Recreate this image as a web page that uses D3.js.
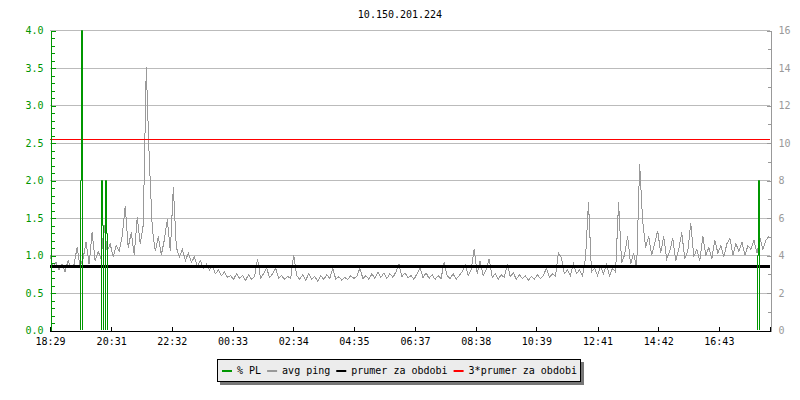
<!DOCTYPE html>
<meta charset="utf-8">
<style>
body { margin: 0; background: #fff; }
svg { font-family: "DejaVu Sans Mono", monospace; font-size: 10px; }
.grid line { stroke: #bbb; shape-rendering: crispEdges; }
.axis path, .axis line { shape-rendering: crispEdges; }
</style>
<svg width="800" height="400"></svg>
<script src="https://cdn.jsdelivr.net/npm/d3@7"></script>
<script>

var title = "10.150.201.224";
var startTime = "18:29";
var xTickLabels = ["18:29", "20:31", "22:32", "00:33", "02:34", "04:35",
                   "06:37", "08:38", "10:39", "12:41", "14:42", "16:43"];
var spanMinutes = 1436;
var stepMinutes = 6;

// avg ping [ms], one sample every 6 minutes from 18:29
var pingMs = [
  4.0, 3.3, 3.6, 3.2, 3.5, 3.1, 3.7, 3.3, 3.5, 4.4, 3.4, 3.8, 4.7, 3.5, 5.2, 3.7,
  4.2, 3.8, 5.6, 4.2, 4.6, 3.9, 4.5, 4.2, 5.0, 6.6, 4.4, 5.2, 4.0, 6.0, 4.6, 5.6,
  14.0, 9.1, 5.4, 4.2, 5.0, 4.0, 4.8, 5.9, 4.2, 7.6, 4.4, 3.9, 4.3, 3.7, 4.1, 3.6,
  3.9, 3.4, 3.7, 3.3, 3.5, 3.2, 3.4, 3.0, 3.2, 2.9, 3.1, 2.8, 2.9, 2.7, 3.0, 2.75,
  2.9, 2.65, 2.95, 2.7, 2.85, 3.8, 2.75, 3.0, 3.3, 2.8, 3.0, 3.3, 2.75, 2.9, 2.7, 2.85,
  2.75, 4.0, 2.9, 2.7, 2.95, 2.65, 3.0, 2.7, 2.85, 2.6, 2.9, 2.7, 2.95, 2.75, 3.3, 2.7,
  2.85, 2.65, 2.8, 2.7, 2.9, 2.75, 2.85, 3.3, 2.75, 2.9, 2.7, 3.0, 2.75, 3.1, 2.8, 3.05,
  2.75, 3.0, 2.8, 3.1, 3.5, 2.85, 3.05, 2.8, 2.9, 2.7, 3.0, 3.3, 2.8, 3.05, 2.75, 2.95,
  2.7, 2.9, 2.75, 3.6, 2.9, 2.75, 3.0, 2.7, 2.9, 3.1, 3.5, 2.9, 3.2, 4.3, 3.0, 3.7,
  2.9, 3.2, 3.8, 2.8, 3.0, 2.7, 2.95, 2.8, 3.5, 2.85, 3.05, 2.7, 2.95, 2.75, 2.9, 2.65,
  2.85, 2.7, 2.95, 2.75, 2.9, 3.3, 2.8, 3.0, 2.85, 4.1, 3.85, 3.0, 3.2, 2.9, 3.55, 3.0,
  3.2, 2.9, 3.8, 6.8, 3.1, 3.3, 2.9, 3.4, 3.0, 3.5, 2.9, 3.3, 3.1, 6.8, 3.6, 4.0,
  5.0, 3.5, 4.1, 3.3, 8.85, 5.8, 4.4, 5.0, 4.0, 4.6, 5.3, 4.1, 5.0, 3.8, 4.2, 4.9,
  3.7, 4.3, 5.2, 3.8, 4.2, 5.7, 3.9, 4.3, 3.7, 5.0, 4.0, 4.4, 3.8, 4.8, 4.1, 4.5,
  3.9, 4.6, 4.9, 4.0, 4.6, 4.2, 4.7, 4.0, 4.5, 4.3, 4.8, 4.1, 4.9, 4.3, 4.8, 5.0
];

// packet loss [%], minutes after 18:29
var plMinutes = [62, 64, 104, 106, 112, 114, 1412, 1414];
var plPercent = [2.0, 4.0, 2.0, 1.4, 2.0, 1.3, 1.0, 2.0];

var avgPingMs = 3.39;

var leftTicks = [0, 0.5, 1, 1.5, 2, 2.5, 3, 3.5, 4];
var rightTicks = [0, 2, 4, 6, 8, 10, 12, 14, 16];

var legendLabels = ["% PL", "avg ping", "prumer za obdobi", "3*prumer za obdobi"];
var legendColors = ["#009600", "#999999", "#000000", "#ff0000"];

var svg = d3.select("svg"),
    pLeft = 50, pRight = 770, pTop = 30, pBottom = 330;

function toMinRaw(s) { var p = s.split(":"); return (+p[0]) * 60 + (+p[1]); }
function toMin(s) { return (toMinRaw(s) - toMinRaw(startTime) + 1440) % 1440; }

var x = d3.scaleLinear().domain([0, spanMinutes]).range([pLeft, pRight]);
var yL = d3.scaleLinear().domain([0, 4]).range([pBottom, pTop]);
var yR = d3.scaleLinear().domain([0, 16]).range([pBottom, pTop]);

svg.append("defs").append("clipPath").attr("id", "plot")
  .append("rect").attr("x", pLeft).attr("y", pTop - 1)
  .attr("width", pRight - pLeft + 1).attr("height", pBottom - pTop + 1);

// title
svg.append("text").attr("x", 400).attr("y", 18)
  .attr("text-anchor", "middle").attr("fill", "#000").text(title);

// grid
svg.append("g").attr("class", "grid")
  .selectAll("line").data(leftTicks.slice(1)).enter().append("line")
  .attr("x1", pLeft).attr("x2", pRight)
  .attr("y1", function(d) { return Math.round(yL(d)) + 0.5; })
  .attr("y2", function(d) { return Math.round(yL(d)) + 0.5; });

var plot = svg.append("g").attr("clip-path", "url(#plot)");

// avg ping
var pingLine = d3.line()
  .x(function(d, i) { return x(i * stepMinutes); })
  .y(function(d) { return yR(d); });
plot.append("path").datum(pingMs)
  .attr("fill", "none").attr("stroke", "#999").attr("stroke-width", 1)
  .attr("shape-rendering", "crispEdges")
  .attr("d", pingLine);

// average and 3*average
plot.append("line").attr("x1", pLeft).attr("x2", pRight)
  .attr("y1", yR(avgPingMs)).attr("y2", yR(avgPingMs))
  .attr("stroke", "#000").attr("stroke-width", 3);
plot.append("line").attr("x1", pLeft).attr("x2", pRight)
  .attr("y1", Math.round(yR(3 * avgPingMs)) + 0.5).attr("y2", Math.round(yR(3 * avgPingMs)) + 0.5)
  .attr("stroke", "#ff0000").attr("stroke-width", 1);

// packet loss (zero everywhere else)
var plByMin = {};
plMinutes.forEach(function(m, i) { plByMin[m] = plPercent[i]; });
var plSeries = d3.range(0, spanMinutes + 1, 2).map(function(m) {
  return [m, plByMin[m] || 0];
});
plot.append("path").datum(plSeries)
  .attr("fill", "none").attr("stroke", "#009600").attr("stroke-width", 1)
  .attr("d", d3.line()
    .curve(d3.curveStepBefore)
    .x(function(d) { return Math.round(x(d[0])) + 0.5; })
    .y(function(d) { return Math.round(yL(d[1])) + 0.5; }));

// left axis
var gL = svg.append("g").attr("class", "axis").attr("transform", "translate(" + (pLeft + 0.5) + ",0.5)");
gL.call(d3.axisLeft(yL).tickValues(d3.range(0, 4.001, 0.1)).tickSize(-4).tickFormat(""));
gL.append("g").call(d3.axisLeft(yL).tickValues(leftTicks).tickSize(-5).tickPadding(7)
  .tickFormat(d3.format(".1f")));
gL.selectAll("path, line").attr("stroke", "#009600");
gL.selectAll("text").attr("fill", "#009600").style("font-family", "DejaVu Sans Mono").style("font-size", "10px");

// right axis
var gR = svg.append("g").attr("class", "axis").attr("transform", "translate(" + (pRight + 0.5) + ",0.5)");
gR.call(d3.axisRight(yR).tickValues(d3.range(0, 17, 1)).tickSize(-3).tickFormat(""));
gR.append("g").call(d3.axisRight(yR).tickValues(rightTicks).tickSize(-4).tickPadding(8)
  .tickFormat(d3.format("d")));
gR.selectAll("path, line").attr("stroke", "#999");
gR.selectAll("text").attr("fill", "#999").style("font-family", "DejaVu Sans Mono").style("font-size", "10px");

// bottom axis
var gB = svg.append("g").attr("class", "axis").attr("transform", "translate(0," + (pBottom + 0.5) + ")");
gB.call(d3.axisBottom(x).tickValues(xTickLabels.map(toMin)).tickSize(-4).tickPadding(7)
  .tickFormat(function(d, i) { return xTickLabels[i]; }));
gB.selectAll("path, line").attr("stroke", "#000");
gB.selectAll("text").attr("fill", "#000").style("font-family", "DejaVu Sans Mono").style("font-size", "10px");

// legend
var lg = svg.append("g");
lg.append("rect").attr("x", 220).attr("y", 362).attr("width", 364).attr("height", 23).attr("fill", "#777");
lg.append("rect").attr("x", 217.5).attr("y", 359.5).attr("width", 363).attr("height", 22)
  .attr("fill", "#ececec").attr("stroke", "#000").attr("shape-rendering", "crispEdges");
var lx = 222;
legendLabels.forEach(function(t, i) {
  lg.append("rect").attr("x", lx).attr("y", 370).attr("width", 10).attr("height", 2)
    .attr("fill", legendColors[i]);
  var tx = lg.append("text").attr("x", lx + 15).attr("y", 374).attr("fill", "#000").text(t);
  lx += 15 + tx.node().getComputedTextLength() + 6;
});

</script>
